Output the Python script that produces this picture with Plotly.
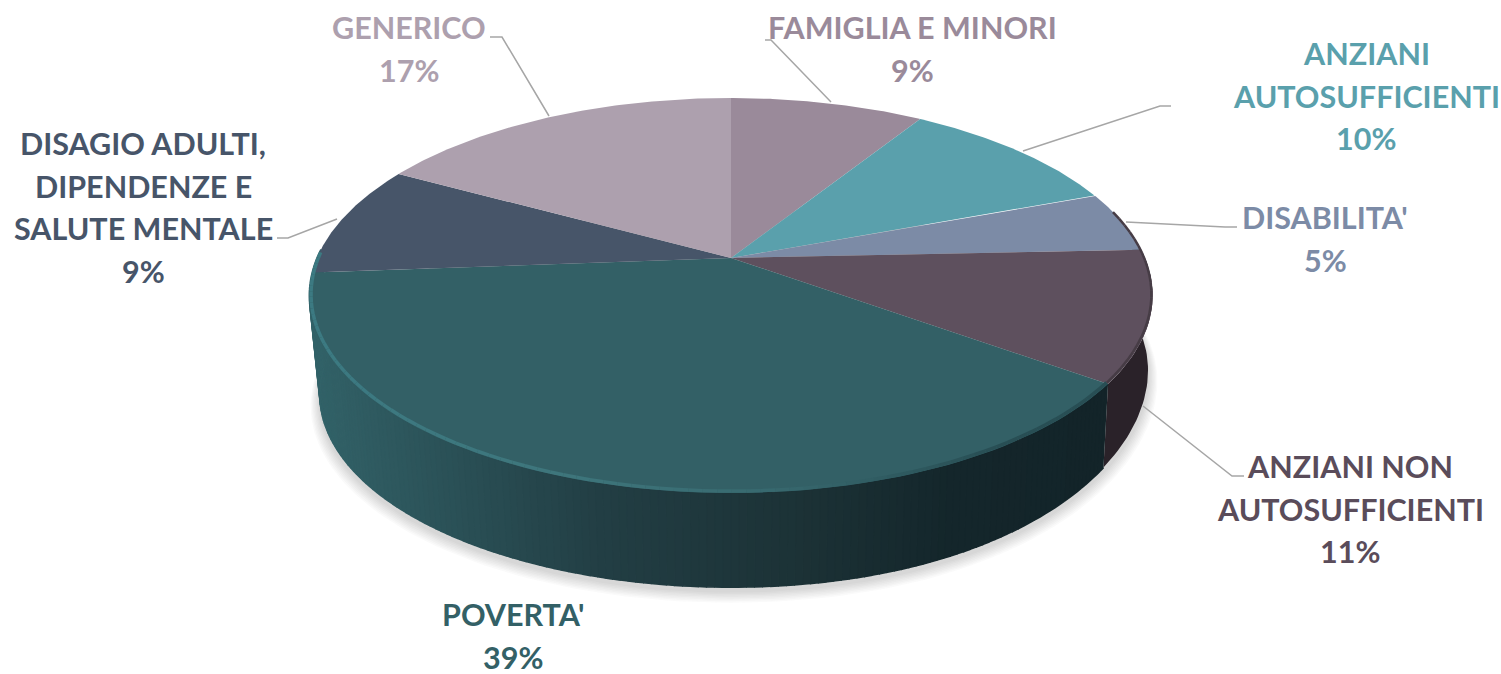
import numpy as np
import plotly.graph_objects as go

# ---- data ----
categories = ["FAMIGLIA E MINORI", "ANZIANI AUTOSUFFICIENTI", "DISABILITA'",
              "ANZIANI NON AUTOSUFFICIENTI", "POVERTA'",
              "DISAGIO ADULTI, DIPENDENZE E SALUTE MENTALE", "GENERICO"]
values = [8.9, 10.4, 5.0, 10.7, 38.8, 9.2, 17.0]
label_lines = [["FAMIGLIA E MINORI"], ["ANZIANI", "AUTOSUFFICIENTI"], ["DISABILITA'"],
               ["ANZIANI NON", "AUTOSUFFICIENTI"], ["POVERTA'"],
               ["DISAGIO ADULTI,", "DIPENDENZE E", "SALUTE MENTALE"], ["GENERICO"]]

# ---- styles / layout ----
colors = ["#9a8a9a", "#5aa0ac", "#7c8ba6", "#5e505e", "#336066", "#475569", "#ada0ae"]
label_colors = ["#9a8a9a", "#5aa0ac", "#7c8ba6", "#5a4c5a", "#336066", "#475569", "#ada0ae"]
label_pos = [(912, 27), (1366, 53), (1325, 217), (1350, 466), (513, 614), (143, 143), (409, 27)]
LINE_H = 42.5
FONT = "Lato, Carlito, 'Open Sans', sans-serif"
FONT_SIZE = 30.5
leaders = [
    ([765, 771, 831], [40, 40, 102]),
    ([1171, 1160, 1023], [106, 106, 151]),
    ([1237, 1225, 1126], [227, 227, 222]),
    ([1244, 1232, 1143], [476, 476, 406]),
    ([277, 288, 337], [238, 238, 219]),
    ([490, 502, 549], [37, 37, 116]),
]
CX, CY, A, B, K = 731.0, 258.0, 414.0, 190.4, 0.19
CY_BOTTOM, SCALE_BOTTOM = 358.0, 0.975


def rim(theta, cy=CY, s=1.0):
    """Perspective projection of a circle: theta clockwise from the back of the pie."""
    u, v = np.sin(theta), np.cos(theta)
    w = 1 + K * v
    return CX + s * A * u / w, cy - s * B * v / w


def base_rim(theta):
    """Lower edge of the side wall; it lifts a little towards the right, as in the picture."""
    x, y = rim(theta, CY_BOTTOM, SCALE_BOTTOM)
    r = np.clip(np.sin(theta), 0, 1)
    return x + 6 * r, y - 25 * r ** 3


def rgb(c):
    return "rgb(%d,%d,%d)" % tuple(int(round(x)) for x in c)


def ramp(x, stops):
    xs = [s[0] for s in stops]
    return tuple(np.interp(x, xs, [s[1][i] for s in stops]) for i in range(3))


fig = go.Figure()


def poly(x, y, color, line=None, lw=0):
    fig.add_trace(go.Scatter(x=list(x), y=list(y), mode="lines", fill="toself",
                             fillcolor=color, line=dict(color=line or color, width=lw),
                             hoverinfo="skip", showlegend=False))


def seg(x, y, color, width):
    fig.add_trace(go.Scatter(x=list(x), y=list(y), mode="lines",
                             line=dict(color=color, width=width),
                             hoverinfo="skip", showlegend=False))


# wedge angles from the values
edges = np.cumsum([0] + values) / sum(values) * 2 * np.pi

# soft shadow
full = np.linspace(0, 2 * np.pi, 241)
for i in range(8, 0, -1):
    bx, by = base_rim(full)
    sx = CX + (bx - CX) * (1 + i * 0.0028)
    sy = 362 + i * 0.8 + (by - 358) * (1 + i * 0.0028)
    poly(sx, sy, "rgba(90,90,90,0.028)")

# side wall
poverta_ramp = [(310, (50, 98, 104)), (420, (44, 84, 90)), (600, (34, 62, 68)),
                (800, (28, 50, 54)), (950, (20, 38, 43)), (1110, (19, 36, 41))]
a_mid, a_end = edges[4], edges[5]

th = np.linspace(np.pi / 2 - 0.12, a_mid, 40)
xt, yt = rim(th)
xb, yb = base_rim(th)
poly(np.r_[xt, xb[::-1]], np.r_[yt, yb[::-1]], rgb((42, 34, 41)))

# the Poverta' wall is shaded strip by strip
n_strips = 160
ths = np.linspace(a_mid, a_end + 0.12, n_strips + 1)
for t0, t1 in zip(ths[:-1], ths[1:]):
    xt0, yt0 = rim(np.array([t0, t1]))
    xb0, yb0 = base_rim(np.array([t0, t1]))
    c = rgb(ramp(xt0.mean(), poverta_ramp))
    poly(np.r_[xt0, xb0[::-1]], np.r_[yt0, yb0[::-1]], c, c, 1.6)

# top face wedges
for i, col in enumerate(colors):
    th = np.linspace(edges[i], edges[i + 1], 90)
    x, y = rim(th)
    poly(np.r_[CX, x, CX], np.r_[CY, y, CY], col)

# bevel highlight along the front rim of the top face
bt = np.linspace(a_mid, a_end + 0.1, 90)
for t0, t1 in zip(bt[:-1], bt[1:]):
    x, y = rim(np.array([t0, t1]), cy=CY - 1, s=0.996)
    hl = ramp(x.mean(), [(310, (60, 122, 130)), (560, (62, 118, 124)), (760, (56, 106, 112)),
                         (880, (48, 92, 98)), (1000, (40, 78, 84)), (1110, (40, 78, 84))])
    seg(x, y, rgb(hl), 3.5)
bt = np.linspace(np.pi / 2 - 0.25, a_mid, 24)
for t0, t1 in zip(bt[:-1], bt[1:]):
    x, y = rim(np.array([t0, t1]), cy=CY - 1, s=0.997)
    seg(x, y, rgb((70, 60, 69)), 2.5)

# leader lines
for lx, ly in leaders:
    seg(lx, ly, "#a6a6a6", 1.5)

# labels: each name line is followed by the rounded percentage
annotations = []
for lines, val, col, (px, py) in zip(label_lines, values, label_colors, label_pos):
    for j, txt in enumerate(lines + [f"{round(val)}%"]):
        annotations.append(dict(x=px, y=py + j * LINE_H, xref="x", yref="y", text=f"<b>{txt}</b>",
                                showarrow=False, xanchor="center", yanchor="middle",
                                font=dict(family=FONT, size=FONT_SIZE, color=col)))

fig.update_layout(
    width=1501, height=674, margin=dict(l=0, r=0, t=0, b=0),
    paper_bgcolor="white", plot_bgcolor="white", showlegend=False,
    xaxis=dict(range=[0, 1501], visible=False, fixedrange=True),
    yaxis=dict(range=[674, 0], visible=False, fixedrange=True),
    annotations=annotations,
)
fig.write_html("out.html", config=dict(displayModeBar=False),
               post_script="document.body.style.margin='0';document.body.style.overflow='hidden';")
